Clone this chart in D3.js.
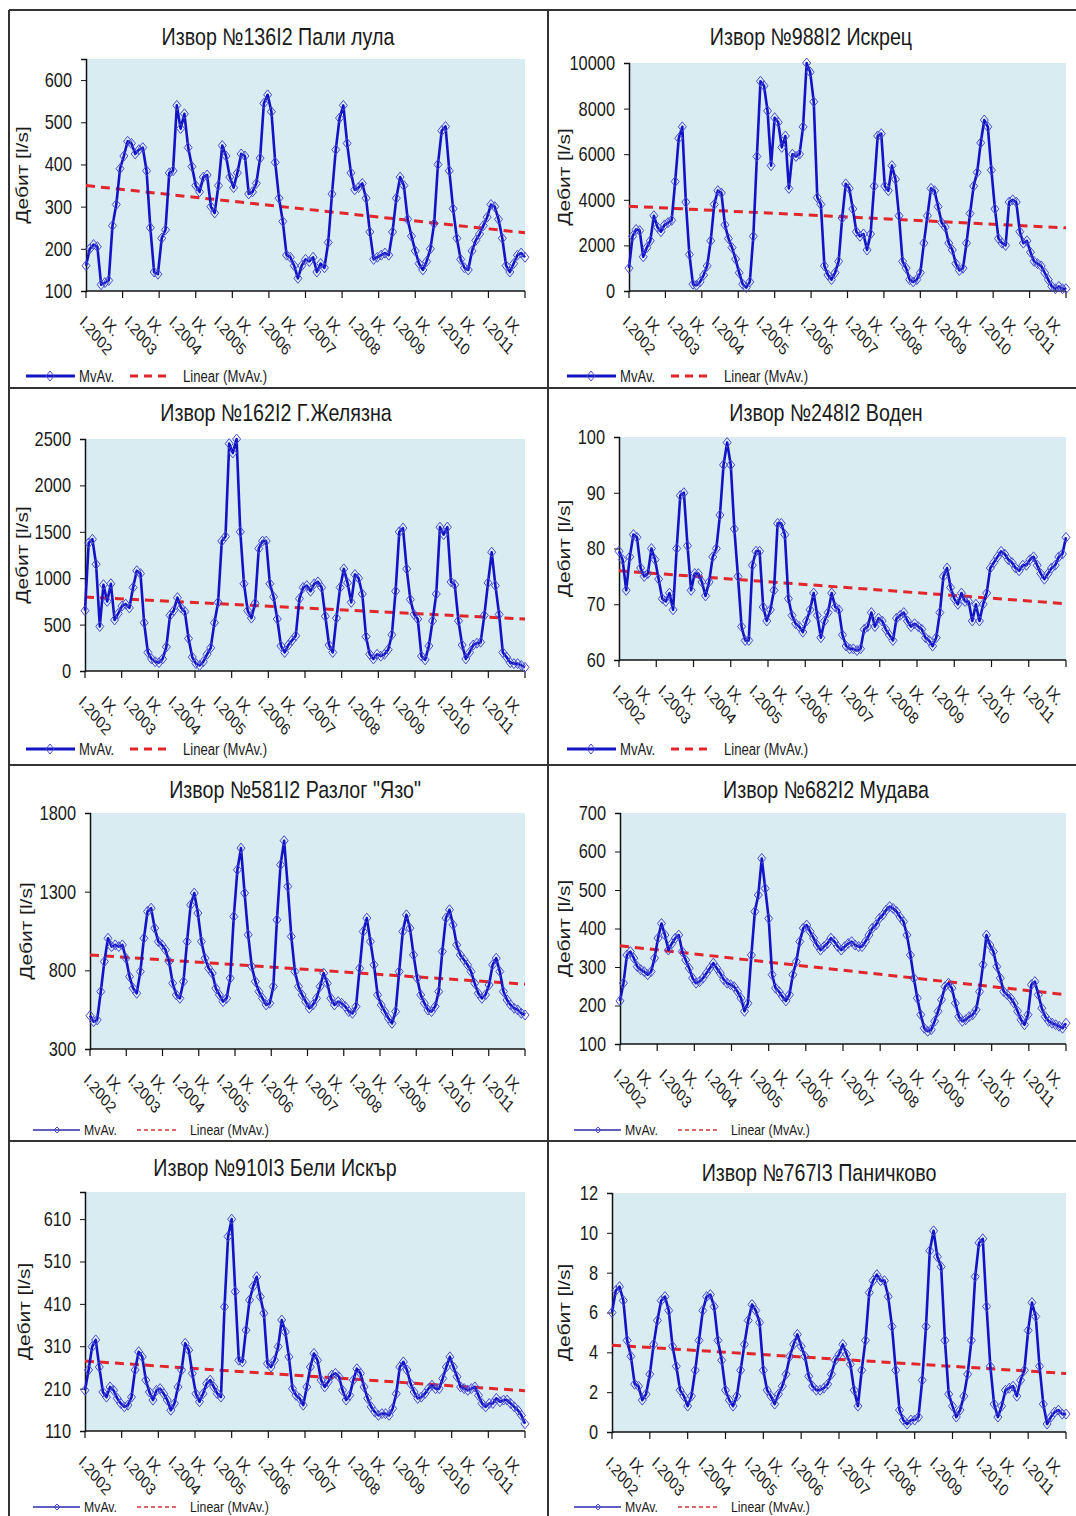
<!DOCTYPE html>
<meta charset="utf-8">
<style>
  body { margin: 0; background: #fff; }
  svg text { font-family: "Liberation Sans", Arial, sans-serif; fill: #1a1a1a; }
  .title { font-size: 24px; text-anchor: middle; }
  .tick-y { font-size: 20px; text-anchor: end; }
  .tick-x { font-size: 17px; }
  .ytitle { font-size: 21px; text-anchor: middle; }
  .legend { font-size: 16px; }
  .plot-bg { fill: #d8ecf2; }
  .mvav { fill: none; stroke: #1313c6; stroke-width: 2.6; stroke-linejoin: round; }
  .marker { fill: none; stroke: #4a4ad2; stroke-width: 1; }
  .trend { stroke: #e2262b; stroke-width: 3; stroke-dasharray: 9 6; }
  .axis-line { stroke: #111; stroke-width: 1.5; }
  .frame { stroke: #333; stroke-width: 2; }
</style>
<body>
<script src="https://d3js.org/d3.v7.min.js"></script>
<script>

var width = 1076,
    height = 1516;

// monthly moving averages, I.2002 .. IX.2011
var paliLula = [160,200,210,205,115,120,125,255,305,390,420,455,450,425,435,440,385,250,145,140,
  225,245,380,385,540,485,520,440,395,350,335,370,375,300,285,350,445,420,370,345,
  380,425,420,330,335,355,415,545,565,525,405,320,265,185,180,160,130,160,175,170,
  180,145,165,155,215,330,435,510,540,450,380,340,345,355,320,240,175,180,185,190,
  185,240,320,370,350,270,230,195,165,150,170,200,260,400,480,490,385,295,225,175,
  155,150,195,220,235,255,275,305,300,270,225,160,145,165,185,190,180];

var iskrets = [1000,2400,2700,2650,1500,1900,2200,3300,2800,2600,2900,3000,3100,4800,6700,7200,3900,1600,300,250,
  400,700,1100,2200,3800,4400,4300,2900,2300,1900,1400,800,300,150,400,2400,5900,9200,9000,7900,
  5500,7600,7400,6300,6800,4500,6000,5900,6000,7200,10000,9600,8300,4100,3800,1100,700,500,800,1300,
  3200,4700,4500,3600,2600,2400,2500,1800,2500,4600,6800,6900,4600,4400,5500,4900,3300,1300,1000,500,
  400,500,800,2100,3300,4500,4400,3700,3000,2800,2100,1800,1200,900,1000,2100,3400,4600,5200,6500,
  7500,7200,5300,3600,2300,2100,2000,3900,4000,3900,2600,2100,2200,1700,1300,1200,1100,800,500,200,
  100,200,100,100];

var zhelyazna = [650,1380,1420,1150,480,930,750,940,550,620,700,720,680,900,1080,1050,520,200,130,100,
  90,130,260,600,650,790,680,640,350,150,80,60,100,180,250,520,740,1400,1450,2450,
  2350,2500,1500,940,650,570,730,1320,1400,1400,940,800,560,270,200,280,330,380,780,900,
  920,860,940,960,900,590,280,200,570,900,1100,950,740,1040,1000,830,370,180,130,180,
  160,180,230,390,860,1500,1540,1100,770,610,560,160,120,270,540,830,1550,1470,1550,960,
  930,540,280,130,200,280,300,310,600,950,1280,920,610,200,150,90,80,80,60,40];

var voden = [79.5,78,72.5,78.5,82.5,82,76.5,75,75.5,80,78,74.5,71,70.5,72,69,80,89.5,90,80.5,
  72.5,75.5,75.5,74,71.5,74,78.5,80,86,95,99,95,83.5,75,66,63.5,63.5,77,79.5,79.5,
  69.5,67,69,72.5,84.5,84.5,82.5,71,68,66.5,66,65,67,69,72,68,64,67,68.5,72,
  69.5,69,64.5,62.5,62,62,61.7,62,65.5,66,68.5,66,67.5,67,65.5,64.5,63.5,67.5,68,68.5,
  67,66,66.5,66,65.5,64,63.5,62.5,64,68.5,75,76.5,73,71,70,72,70.5,70.5,67,70,
  67,70,72,76.5,77.5,78.5,79.5,79,78,77.5,76.5,76,77,77,78,78.5,77,75.5,74.5,75.5,
  76.5,77,78.5,79,82];

var razlog = [512,474,485,665,856,1004,951,962,951,962,877,760,686,654,792,1004,1174,1195,1068,983,
  962,930,856,718,644,622,729,983,1216,1291,1164,983,877,813,782,686,644,601,622,750,
  1142,1439,1577,1291,1026,824,729,665,622,580,591,697,1121,1471,1624,1333,1015,792,697,644,
  601,559,580,622,697,782,718,622,580,601,591,570,538,527,570,813,1047,1132,983,835,
  644,580,538,495,463,538,792,1047,1153,1068,898,750,644,591,548,538,570,665,920,1132,
  1185,1089,962,898,867,835,792,718,654,622,644,707,835,877,792,665,612,580,559,548,
  527,516];

var mudava = [212,258,331,340,323,301,293,288,280,288,323,375,413,383,344,361,375,383,340,318,
  297,271,258,262,271,284,297,310,297,284,267,258,254,249,236,219,185,206,331,444,
  487,582,504,426,280,245,236,223,212,228,280,314,366,401,409,392,375,357,344,353,
  361,375,366,353,344,353,361,366,357,353,353,366,383,401,409,426,435,448,457,452,
  444,430,418,383,331,271,219,176,141,133,137,159,185,215,249,258,245,206,171,159,
  163,171,176,189,236,306,383,357,340,301,271,236,228,219,206,185,163,150,176,254,
  262,228,193,171,159,154,150,146,141,154];

var beliIskar = [206,254,309,325,261,202,190,214,206,187,175,167,171,190,254,297,285,230,202,183,
  206,210,198,183,159,175,214,254,317,301,246,198,179,198,222,230,214,198,190,403,
  569,610,439,277,273,348,419,451,474,427,388,269,261,277,309,372,344,285,210,194,
  187,171,214,261,293,277,230,214,226,242,246,238,206,183,194,230,257,246,214,187,
  167,155,147,151,151,147,163,198,261,273,254,222,202,187,190,198,210,218,210,210,
  234,261,285,261,238,214,210,206,210,214,194,175,167,175,175,187,179,183,183,175,
  167,159,147,127];

var panichkovo = [6.0,7.1,7.3,6.6,4.6,3.8,2.4,2.3,1.6,1.9,2.9,4.4,5.6,6.6,6.8,6.1,4.3,3.3,2.1,1.8,
  1.3,1.8,3.1,4.6,6.1,6.8,6.9,6.3,4.6,3.6,2.1,1.6,1.3,1.8,3.1,4.4,5.6,6.4,6.1,5.5,
  3.1,2.1,1.8,1.4,1.9,2.3,2.9,3.8,4.4,4.9,4.3,3.8,2.8,2.3,2.1,2.1,2.2,2.4,2.9,3.6,
  3.9,4.4,3.9,3.4,2.1,1.3,3.1,4.6,7.0,7.6,7.9,7.6,7.6,6.8,5.3,3.1,1.1,0.6,0.4,0.6,
  0.6,0.75,2.6,5.3,9.1,10.1,8.8,8.3,4.6,1.9,1.3,0.75,1.1,1.8,2.9,4.6,7.8,9.5,9.7,6.3,
  3.3,1.4,0.75,1.3,2.1,2.2,2.3,1.8,2.6,3.1,5.1,6.5,5.8,3.3,1.4,0.4,0.75,1.0,1.1,0.9,
  0.9];

// linear trend, value at first and last month
var trendEnds = [[350, 238], [3720, 2770], [797, 560], [76.0, 70.1],
                 [898, 712], [355, 228], [275, 205], [4.36, 2.94]];

var titles = ["Извор №136I2 Пали лула", "Извор №988I2 Искрец",
              "Извор №162I2 Г.Желязна", "Извор №248I2 Воден",
              "Извор №581I2  Разлог \"Язо\"", "Извор №682I2  Мудава",
              "Извор №910I3  Бели Искър", "Извор №767I3  Паничково"];

var yDomains = [[100, 650], [0, 10000], [0, 2500], [60, 100],
                [300, 1800], [100, 700], [110, 674], [0, 12]];

var yTicks = [[100, 200, 300, 400, 500, 600],
              [0, 2000, 4000, 6000, 8000, 10000],
              [0, 500, 1000, 1500, 2000, 2500],
              [60, 70, 80, 90, 100],
              [300, 800, 1300, 1800],
              [100, 200, 300, 400, 500, 600, 700],
              [110, 210, 310, 410, 510, 610],
              [0, 2, 4, 6, 8, 10, 12]];

var xLabels = ["I.2002", "IX.", "I.2003", "IX.", "I.2004", "IX.", "I.2005", "IX.",
               "I.2006", "IX.", "I.2007", "IX.", "I.2008", "IX.", "I.2009", "IX.",
               "I.2010", "IX.", "I.2011", "IX."];

var series = [paliLula, iskrets, zhelyazna, voden, razlog, mudava, beliIskar, panichkovo];

// layout of each panel: plot box, title position, y title x
var layout = [
  {L: 86,  R: 525, T: 59,   B: 291,  tx: 278, ty: 37,   yt: 22,  col: 0, legY: 376,  thin: false},
  {L: 629, R: 1066, T: 63,  B: 291,  tx: 811, ty: 37,   yt: 564, col: 1, legY: 376,  thin: false},
  {L: 85,  R: 525, T: 439,  B: 671,  tx: 276, ty: 413,  yt: 22,  col: 0, legY: 749,  thin: false},
  {L: 619, R: 1066, T: 437, B: 660,  tx: 826, ty: 413,  yt: 564, col: 1, legY: 749,  thin: false},
  {L: 90,  R: 525, T: 813,  B: 1049, tx: 295, ty: 790,  yt: 26,  col: 0, legY: 1130, thin: true},
  {L: 620, R: 1066, T: 813, B: 1044, tx: 826, ty: 790,  yt: 564, col: 1, legY: 1130, thin: true},
  {L: 85,  R: 525, T: 1192, B: 1431, tx: 275, ty: 1168, yt: 24,  col: 0, legY: 1507, thin: true},
  {L: 612, R: 1066, T: 1193, B: 1432, tx: 819, ty: 1173, yt: 564, col: 1, legY: 1507, thin: true}
];

// the source picture is squeezed horizontally, so is its lettering
var SQ = 0.82;

var svg = d3.select("body").append("svg")
    .attr("width", width)
    .attr("height", height);

var diamond = "M0,-5L4,0L0,5L-4,0Z";

function label(parent, cls, x, y, str) {
  return parent.append("text").attr("class", cls)
    .attr("transform", "translate(" + x + "," + y + ") scale(" + SQ + ",1)")
    .text(str);
}

series.forEach(function(data, i) {
  var p = layout[i];
  var g = svg.append("g");

  var x = d3.scaleLinear().domain([0, data.length - 1]).range([p.L, p.R]);
  var y = d3.scaleLinear().domain(yDomains[i]).range([p.B, p.T]);

  g.append("rect").attr("class", "plot-bg")
    .attr("x", p.L).attr("y", p.T)
    .attr("width", p.R - p.L).attr("height", p.B - p.T);

  label(g, "title", p.tx, p.ty + 8, titles[i]);

  // y axis
  var yAxis = d3.axisLeft(y).tickValues(yTicks[i]).tickSize(5).tickFormat(d3.format("d"));
  var ya = g.append("g").attr("transform", "translate(" + p.L + ",0)").call(yAxis);
  ya.select(".domain").attr("class", "axis-line").attr("fill", "none");
  ya.selectAll(".tick line").attr("stroke", "#111");
  ya.selectAll(".tick text")
    .attr("class", "tick-y").attr("fill", null).attr("font-size", null).attr("font-family", null)
    .attr("x", 0)
    .attr("transform", "translate(-14,0) scale(" + SQ + ",1)");
  ya.attr("font-size", null).attr("font-family", null);

  g.append("text").attr("class", "ytitle")
    .attr("transform", "translate(" + p.yt + "," + ((p.T + p.B) / 2) + ") rotate(-90) scale(1," + SQ + ")")
    .attr("dy", "0.35em")
    .text("Дебит [l/s]");

  // x axis: 13 evenly spaced tick marks, labels every 6 months
  var tickPos = d3.range(13).map(function(k) { return p.L + k * (p.R - p.L) / 12; });
  g.append("line").attr("class", "axis-line")
    .attr("x1", p.L).attr("x2", p.R).attr("y1", p.B).attr("y2", p.B);
  g.selectAll(".xtick").data(tickPos).enter().append("line")
    .attr("stroke", "#111").attr("stroke-width", 1.2)
    .attr("x1", function(d) { return d; }).attr("x2", function(d) { return d; })
    .attr("y1", p.B).attr("y2", p.B + 7);

  var xl = d3.scaleLinear().domain([0, xLabels.length - 1]).range([p.L - 7, p.R - 21]);
  g.selectAll(".tick-x").data(xLabels).enter().append("text")
    .attr("class", "tick-x")
    .attr("transform", function(d, k) {
      return "translate(" + xl(k) + "," + (p.B + 32) + ") scale(" + SQ + ",1) rotate(45)";
    })
    .text(function(d) { return d; });

  // trend
  var te = trendEnds[i];
  g.append("line").attr("class", "trend")
    .attr("x1", p.L).attr("y1", y(te[0]))
    .attr("x2", p.R).attr("y2", y(te[1]));

  // series
  var line = d3.line()
    .x(function(d, k) { return x(k); })
    .y(function(d) { return y(d); });
  g.append("path").datum(data).attr("class", "mvav").attr("d", line);
  g.selectAll(".marker").data(data).enter().append("path")
    .attr("class", "marker")
    .attr("d", diamond)
    .attr("transform", function(d, k) { return "translate(" + x(k) + "," + y(d) + ")"; });

  // legend
  var off = p.col === 0 ? 0 : 541;
  var lg = g.append("g").attr("transform", "translate(" + off + "," + p.legY + ")");
  if (!p.thin) {
    lg.append("line").attr("x1", 26).attr("x2", 75).attr("stroke", "#1313c6").attr("stroke-width", 3);
    lg.append("path").attr("class", "marker").attr("d", diamond).attr("transform", "translate(50,0)");
    label(lg, "legend", 79, 6, "MvAv.");
    lg.append("line").attr("x1", 130).attr("x2", 170).attr("stroke", "#e2262b")
      .attr("stroke-width", 3).attr("stroke-dasharray", "8 6");
    label(lg, "legend", 183, 6, "Linear (MvAv.)");
  } else {
    lg.append("line").attr("x1", 33).attr("x2", 80).attr("stroke", "#2a2ab0").attr("stroke-width", 1.5);
    lg.append("path").attr("class", "marker").attr("d", "M0,-3L3,0L0,3L-3,0Z").attr("transform", "translate(57,0)");
    label(lg, "legend", 84, 5, "MvAv.").style("font-size", "15px");
    lg.append("line").attr("x1", 137).attr("x2", 176).attr("stroke", "#d0343a")
      .attr("stroke-width", 1.5).attr("stroke-dasharray", "4 3");
    label(lg, "legend", 190, 5, "Linear (MvAv.)").style("font-size", "15px");
  }
});

// panel frames
var hLines = [10, 388, 765, 1141];
svg.selectAll(".hframe").data(hLines).enter().append("line")
  .attr("class", "frame")
  .attr("stroke-width", function(d) { return d === 765 ? 3 : 2; })
  .attr("x1", 9).attr("x2", width).attr("y1", function(d) { return d; }).attr("y2", function(d) { return d; });
svg.selectAll(".vframe").data([9, 548]).enter().append("line")
  .attr("class", "frame")
  .attr("x1", function(d) { return d; }).attr("x2", function(d) { return d; })
  .attr("y1", 10).attr("y2", height);

</script>
